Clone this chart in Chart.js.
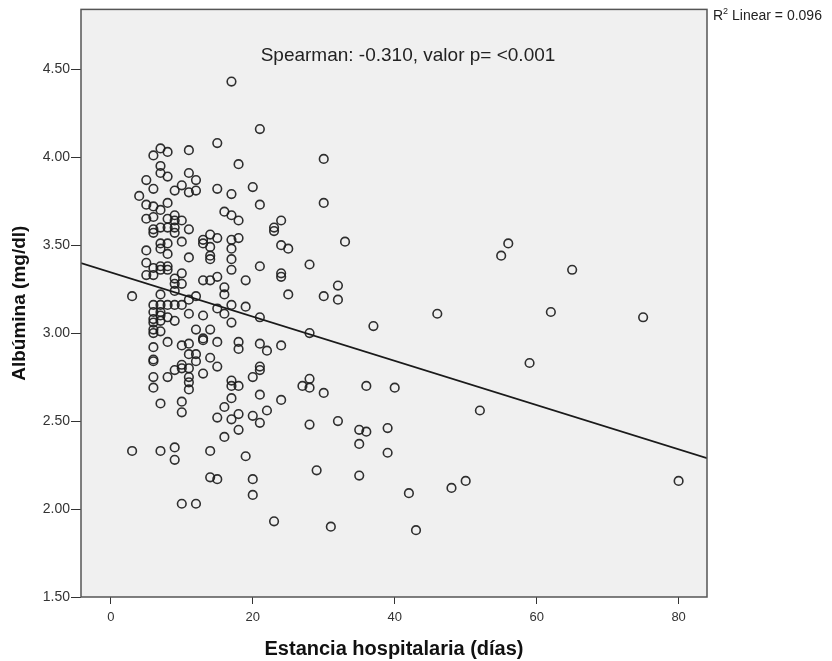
<!DOCTYPE html>
<html>
<head>
<meta charset="utf-8">
<script src="https://cdn.jsdelivr.net/npm/chart.js@4.4.1/dist/chart.umd.min.js"></script>
<style>
  html, body { margin: 0; padding: 0; background: #fff; }
  #wrap { width: 832px; height: 661px; }
</style>
</head>
<body>
<div id="wrap"><canvas id="chart" width="832" height="661"></canvas></div>
<script>
// Estancia hospitalaria (dias) vs Albumina (mg/dl)
const estanciaDias = [
  17, 21, 15, 11, 7, 8, 6, 18, 7, 7, 8, 5, 11, 12, 10, 9, 11, 12, 6, 4,
  15, 17, 20, 21, 8, 5, 6, 7, 5, 6, 8, 9, 9, 10, 16, 17, 18, 6, 7, 8,
  9, 6, 9, 11, 23, 23, 7, 7, 8, 5, 10, 8, 13, 13, 14, 14, 14, 14, 15, 17,
  17, 18, 17, 17, 21, 24, 11, 5, 6, 7, 8, 7, 8, 5, 6, 10, 9, 9, 10, 13,
  14, 15, 16, 16, 19, 3, 7, 9, 12,
  6, 7, 8, 9, 10, 11, 17, 19, 15, 16, 17, 21, 6, 7, 7, 6, 7, 8, 6, 6,
  7, 6, 9, 11, 13, 12, 14, 13, 13, 15, 8, 10, 11, 18, 18, 21, 22, 24, 6, 11,
  12, 12, 14, 15, 6, 6, 10, 10, 11, 9, 8, 13, 11, 11, 11, 6, 6, 21, 21, 20,
  17, 17, 18, 17, 21, 24, 7, 10, 10, 16, 15, 17, 18, 20, 22, 21, 18, 16,
  3, 7, 9, 9, 14, 19, 14, 15, 20, 20, 10, 12, 23,
  30, 30, 24, 24, 25, 33, 28, 24, 25, 30, 32, 32,
  46, 37, 28, 28, 27, 28, 30, 36, 40, 28, 32, 35, 36, 39, 35, 39, 29, 35, 42, 48,
  31, 43,
  56, 55, 65, 62, 75, 59, 52, 50, 80
];
const albumina = [
  4.43, 4.16, 4.08, 4.04, 4.05, 4.03, 4.01, 3.96, 3.95, 3.91, 3.89, 3.87, 3.91, 3.87, 3.84, 3.81, 3.80, 3.81, 3.82, 3.78,
  3.82, 3.79, 3.83, 3.73, 3.74, 3.73, 3.72, 3.70, 3.65, 3.66, 3.65, 3.67, 3.64, 3.64, 3.69, 3.67, 3.64, 3.59, 3.60, 3.60,
  3.60, 3.57, 3.57, 3.59, 3.60, 3.58, 3.51, 3.48, 3.51, 3.47, 3.52, 3.45, 3.53, 3.51, 3.56, 3.49, 3.44, 3.42, 3.54, 3.53,
  3.48, 3.54, 3.42, 3.36, 3.38, 3.34, 3.43, 3.40, 3.37, 3.38, 3.38, 3.36, 3.36, 3.33, 3.33, 3.34, 3.31, 3.28, 3.28, 3.30,
  3.30, 3.32, 3.26, 3.22, 3.30, 3.21, 3.22, 3.24, 3.21,
  3.16, 3.16, 3.16, 3.16, 3.16, 3.19, 3.16, 3.15, 3.14, 3.11, 3.06, 3.09, 3.12, 3.12, 3.10, 3.08, 3.07, 3.09, 3.06, 3.02,
  3.01, 3.00, 3.07, 3.11, 3.10, 3.02, 3.02, 2.97, 2.96, 2.95, 2.95, 2.93, 2.94, 2.95, 2.91, 2.94, 2.90, 2.93, 2.92, 2.88,
  2.88, 2.84, 2.86, 2.81, 2.85, 2.84, 2.82, 2.80, 2.80, 2.79, 2.75, 2.77, 2.75, 2.72, 2.68, 2.75, 2.69, 2.81, 2.79, 2.75,
  2.73, 2.70, 2.70, 2.63, 2.65, 2.62, 2.60, 2.61, 2.55, 2.58, 2.52, 2.51, 2.54, 2.53, 2.56, 2.49, 2.45, 2.41,
  2.33, 2.33, 2.35, 2.28, 2.33, 2.30, 2.18, 2.17, 2.17, 2.08, 2.03, 2.03, 1.93,
  3.99, 3.74, 3.64, 3.50, 3.48, 3.52, 3.39, 3.32, 3.22, 3.21, 3.27, 3.19,
  3.11, 3.04, 3.00, 2.74, 2.70, 2.69, 2.66, 2.70, 2.69, 2.48, 2.50, 2.45, 2.44, 2.46, 2.37, 2.32, 2.22, 2.19, 2.09, 2.12,
  1.90, 1.88,
  3.51, 3.44, 3.36, 3.12, 3.09, 2.83, 2.56, 2.16, 2.16
];

// fit line (linear, R2 = 0.096)
const fitIntercept = 3.345;
const fitSlope = -0.01257;

const xTicks = [0, 20, 40, 60, 80];
const yTicks = [1.5, 2.0, 2.5, 3.0, 3.5, 4.0, 4.5];
const xRange = [-4.2, 84];
const yRange = [1.5, 4.84];

const spearmanText = 'Spearman: -0.310, valor p= <0.001';

const points = estanciaDias.map((d, i) => ({ x: d, y: albumina[i] }));
const fitLine = xRange.map(x => ({ x: x, y: fitIntercept + fitSlope * x }));

const FONT = "'Liberation Sans', Arial, sans-serif";

const plotFrame = {
  id: 'plotFrame',
  beforeDatasetsDraw(chart) {
    const { ctx, chartArea: a } = chart;
    ctx.save();
    ctx.fillStyle = '#f0f0f0';
    ctx.fillRect(a.left, a.top, a.right - a.left, a.bottom - a.top);
    ctx.restore();
  },
  afterDraw(chart) {
    const { ctx, chartArea: a } = chart;
    ctx.save();
    ctx.strokeStyle = '#555';
    ctx.lineWidth = 1.5;
    ctx.strokeRect(a.left, a.top, a.right - a.left, a.bottom - a.top);

    // annotation
    ctx.fillStyle = '#222';
    ctx.font = '19px ' + FONT;
    ctx.textAlign = 'center';
    ctx.textBaseline = 'alphabetic';
    ctx.fillText(spearmanText, (a.left + a.right) / 2 + 14, 61);

    // R2 legend text
    ctx.textAlign = 'left';
    ctx.font = '14px ' + FONT;
    let x = 713;
    ctx.fillText('R', x, 20);
    x += ctx.measureText('R').width;
    ctx.font = '9px ' + FONT;
    ctx.fillText('2', x, 14);
    x += ctx.measureText('2').width;
    ctx.font = '14px ' + FONT;
    ctx.fillText(' Linear = 0.096', x, 20);
    ctx.restore();
  }
};

new Chart(document.getElementById('chart'), {
  type: 'scatter',
  data: {
    datasets: [
      {
        type: 'line',
        data: fitLine,
        borderColor: '#1a1a1a',
        borderWidth: 1.7,
        pointRadius: 0,
        fill: false
      },
      {
        data: points,
        pointStyle: 'circle',
        pointRadius: 4.3,
        pointBackgroundColor: 'rgba(0,0,0,0)',
        pointBorderColor: 'rgba(25,25,25,0.9)',
        pointBorderWidth: 1.6
      }
    ]
  },
  options: {
    responsive: false,
    animation: false,
    layout: { padding: { top: 9, right: 125, left: 0, bottom: 0 } },
    plugins: {
      legend: { display: false },
      tooltip: { enabled: false }
    },
    scales: {
      x: {
        type: 'linear',
        min: xRange[0],
        max: xRange[1],
        afterBuildTicks: axis => { axis.ticks = xTicks.map(v => ({ value: v })); },
        afterFit: axis => { axis.height = 64; },
        ticks: {
          font: { family: FONT, size: 13 },
          color: '#333',
          padding: 6,
          maxRotation: 0
        },
        grid: { drawOnChartArea: false, drawTicks: true, tickLength: 7, color: '#333' },
        border: { display: false },
        title: {
          display: true,
          text: 'Estancia hospitalaria (días)',
          font: { family: FONT, size: 20, weight: 'bold' },
          color: '#111',
          padding: { top: 0, bottom: 0 }
        }
      },
      y: {
        type: 'linear',
        min: yRange[0],
        max: yRange[1],
        afterBuildTicks: axis => { axis.ticks = yTicks.map(v => ({ value: v })); },
        afterFit: axis => { axis.width = 81; },
        ticks: {
          font: { family: FONT, size: 14 },
          color: '#333',
          padding: 1,
          callback: v => Number(v).toFixed(2)
        },
        grid: { drawOnChartArea: false, drawTicks: true, tickLength: 10, color: '#333' },
        border: { display: false },
        title: {
          display: true,
          text: 'Albúmina (mg/dl)',
          font: { family: FONT, size: 19, weight: 'bold' },
          color: '#111',
          padding: { top: 8, bottom: 0 }
        }
      }
    }
  },
  plugins: [plotFrame]
});
</script>
</body>
</html>
